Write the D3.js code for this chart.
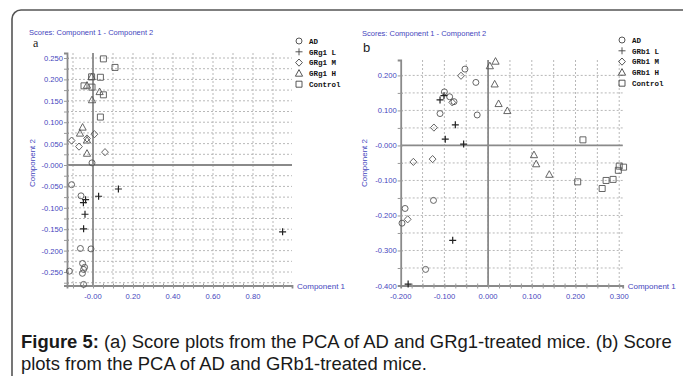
<!DOCTYPE html>
<html>
<head>
<meta charset="utf-8">
<script src="https://cdn.jsdelivr.net/npm/d3@7"></script>
<style>
  body { margin: 0; background: #fff; }
  svg { display: block; }
  .tick-lbl { font-family: "Liberation Sans", Arial, sans-serif; font-size: 7.6px; fill: #4545bd; }
  .leg { font-family: "Liberation Mono", monospace; font-size: 7.5px; font-weight: bold; fill: #111; }
</style>
</head>
<body>
<svg id="fig" width="683" height="376"></svg>
<script>
// panel a: GRg1 (x = component 1, y = component 2)
var adA = [[-0.107, -0.046], [-0.06, -0.072], [-0.063, -0.195], [-0.01, -0.196], [-0.052, -0.23], [-0.042, -0.239],
  [-0.047, -0.244], [-0.053, -0.253], [-0.118, -0.248], [-0.047, -0.279], [-0.005, 0.005]];
var lowA = [[-0.037, -0.081], [-0.048, -0.088], [0.028, -0.073], [0.127, -0.056], [-0.04, -0.115], [-0.047, -0.149], [0.948, -0.156]];
var midA = [[0.007, 0.072], [-0.107, 0.057], [-0.03, 0.062], [-0.07, 0.043], [0.06, 0.03]];
var highA = [[-0.005, 0.152], [0.033, 0.171], [-0.052, 0.088], [-0.065, 0.074], [-0.03, 0.058], [-0.03, 0.027], [-0.007, 0.206], [-0.03, 0.186]];
var ctrlA = [[0.052, 0.248], [0.11, 0.228], [-0.007, 0.206], [0.037, 0.205], [-0.045, 0.185], [-0.005, 0.182], [0.052, 0.164], [0.037, 0.112]];

// panel b: GRb1
var adB = [[-0.11, 0.091], [-0.1, 0.153], [-0.088, 0.139], [-0.078, 0.125], [-0.053, 0.218], [-0.028, 0.18], [-0.025, 0.087],
  [-0.125, -0.157], [-0.19, -0.18], [-0.197, -0.222], [-0.143, -0.354]];
var lowB = [[-0.11, 0.13], [-0.101, 0.142], [-0.075, 0.059], [-0.098, 0.018], [-0.056, 0.004], [-0.081, -0.271], [-0.183, -0.396]];
var midB = [[-0.062, 0.199], [-0.124, 0.051], [-0.082, 0.123], [-0.171, -0.047], [-0.127, -0.039], [-0.184, -0.211]];
var highB = [[0.004, 0.227], [0.017, 0.24], [0.015, 0.175], [0.024, 0.119], [0.044, 0.099], [0.105, -0.027], [0.11, -0.053], [0.14, -0.083]];
var ctrlB = [[0.217, 0.016], [0.205, -0.104], [0.261, -0.123], [0.27, -0.1], [0.286, -0.097], [0.298, -0.071], [0.3, -0.059], [0.31, -0.062]];

var xTicksA = [0, 0.2, 0.4, 0.6, 0.8];
var xLabelsA = ["-0.00", "0.20", "0.40", "0.60", "0.80"];
var yTicksA = [0.25, 0.2, 0.15, 0.1, 0.05, 0, -0.05, -0.1, -0.15, -0.2, -0.25];
var yLabelsA = ["0.250", "0.200", "0.150", "0.100", "0.050", "-0.000", "-0.050", "-0.100", "-0.150", "-0.200", "-0.250"];
var xTicksB = [-0.2, -0.1, 0, 0.1, 0.2, 0.3];
var xLabelsB = ["-0.200", "-0.100", "0.000", "0.100", "0.200", "0.300"];
var yTicksB = [0.2, 0.1, 0, -0.1, -0.2, -0.3, -0.4];
var yLabelsB = ["0.200", "0.100", "-0.000", "-0.100", "-0.200", "-0.300", "-0.400"];

var svg = d3.select("#fig");

// outer frame
svg.append("rect").attr("x", 12).attr("y", 10).attr("width", 700).attr("height", 420).attr("rx", 9)
  .attr("fill", "none").attr("stroke", "#555").attr("stroke-width", 1.6);

// marker paths
function shape(kind) {
  switch (kind) {
    case "circle": return "M3,0 A3,3 0 1,1 -3,0 A3,3 0 1,1 3,0";
    case "plus": return "M-3.5,0 L3.5,0 M0,-3.5 L0,3.5";
    case "diamond": return "M0,-3.6 L3.4,0 L0,3.6 L-3.4,0 Z";
    case "tri": return "M0,-3.8 L3.6,2.8 L-3.6,2.8 Z";
    default: return "M-3,-3 L3,-3 L3,3 L-3,3 Z";
  }
}

function panel(cfg) {
  var x = d3.scaleLinear().domain(cfg.xDom).range(cfg.xRange);
  var y = d3.scaleLinear().domain(cfg.yDom).range(cfg.yRange);
  var g = svg.append("g");

  // dotted grid
  g.selectAll(".gx").data(cfg.gridX).enter().append("line")
    .attr("x1", d => x(d)).attr("x2", d => x(d)).attr("y1", cfg.yRange[1]).attr("y2", cfg.yRange[0])
    .attr("stroke", "#b0b0b0").attr("stroke-dasharray", "2,2").attr("stroke-width", 0.9);
  g.selectAll(".gy").data(cfg.gridY).enter().append("line")
    .attr("y1", d => y(d)).attr("y2", d => y(d)).attr("x1", cfg.xRange[0]).attr("x2", cfg.xRange[1])
    .attr("stroke", "#b0b0b0").attr("stroke-dasharray", "2,2").attr("stroke-width", 0.9);

  // zero lines
  g.append("line").attr("x1", x(0)).attr("x2", x(0)).attr("y1", cfg.yRange[1]).attr("y2", cfg.yRange[0])
    .attr("stroke", "#8a8a8a").attr("stroke-width", 1.8);
  g.append("line").attr("y1", y(0)).attr("y2", y(0)).attr("x1", cfg.xRange[0]).attr("x2", cfg.xRange[1])
    .attr("stroke", "#8a8a8a").attr("stroke-width", 1.8);

  // axes
  var ax = d3.axisBottom(x).tickValues(cfg.gridX.concat(cfg.xMinor)).tickSize(3).tickFormat("");
  g.append("g").attr("transform", `translate(0,${cfg.yRange[0]})`).call(ax)
    .call(s => { s.select(".domain").attr("stroke", "#8a8a8a").attr("stroke-width", 1.8); s.selectAll(".tick line").attr("stroke", "#999").attr("y1", -2); });
  var ay = d3.axisLeft(y).tickValues(cfg.gridY).tickSize(3).tickFormat("");
  g.append("g").attr("transform", `translate(${cfg.xRange[0]},0)`).call(ay)
    .call(s => { s.select(".domain").attr("stroke", "#8a8a8a").attr("stroke-width", 1.8); s.selectAll(".tick line").attr("stroke", "#999").attr("x1", 2); });

  // tick labels
  g.selectAll(".xl").data(cfg.xTicks).enter().append("text").attr("class", "tick-lbl")
    .attr("x", d => x(d)).attr("y", cfg.yRange[0] + 13).attr("text-anchor", "middle")
    .text((d, i) => cfg.xLabels[i]);
  g.selectAll(".yl").data(cfg.yTicks).enter().append("text").attr("class", "tick-lbl")
    .attr("x", cfg.xRange[0] - 4).attr("y", d => y(d) + 3).attr("text-anchor", "end")
    .text((d, i) => cfg.yLabels[i]);

  // titles
  g.append("text").attr("class", "tick-lbl").attr("x", cfg.titleX).attr("y", cfg.titleY)
    .style("font-size", "7.5px").text("Scores: Component 1 - Component 2");
  g.append("text").attr("class", "tick-lbl").attr("x", cfg.xRange[1] + 5).attr("y", cfg.yRange[0] + 3)
    .style("font-size", "8px").text("Component 1");
  g.append("text").attr("class", "tick-lbl").attr("transform", `translate(${cfg.c2x},163) rotate(-90)`)
    .attr("text-anchor", "middle").style("font-size", "8px").text("Component 2");
  g.append("text").attr("x", cfg.letterX).attr("y", cfg.letterY)
    .style("font-family", cfg.letterFont).style("font-size", cfg.letterSize).attr("fill", "#222").text(cfg.letter);

  // points
  cfg.series.forEach(s => {
    g.selectAll(null).data(s.data).enter().append("path")
      .attr("transform", d => `translate(${x(d[0])},${y(d[1])})`)
      .attr("d", shape(s.kind)).attr("fill", "none")
      .attr("stroke", s.kind == "plus" ? "#222" : "#555").attr("stroke-width", s.kind == "plus" ? 1.2 : 0.9);
  });

  // legend
  var lg = g.append("g").attr("transform", `translate(${cfg.legX},${cfg.legY})`);
  cfg.series.forEach((s, i) => {
    lg.append("path").attr("transform", `translate(0,${i * 10.8})`).attr("d", shape(s.kind))
      .attr("fill", "none").attr("stroke", "#444").attr("stroke-width", 0.9);
    lg.append("text").attr("class", "leg").attr("x", 10).attr("y", i * 10.8 + 2.8).text(s.name);
  });
}

panel({
  xDom: [-0.13, 0.995], xRange: [67, 292],
  yDom: [-0.2815, 0.2617], yRange: [285.5, 53],
  gridX: [-0.1, 0, 0.1, 0.2, 0.3, 0.4, 0.5, 0.6, 0.7, 0.8, 0.9],
  xMinor: [-0.05, 0.05, 0.15, 0.25, 0.35, 0.45, 0.55, 0.65, 0.75, 0.85, 0.95],
  gridY: d3.range(-0.275, 0.26, 0.025),
  xTicks: xTicksA, xLabels: xLabelsA, yTicks: yTicksA, yLabels: yLabelsA,
  titleX: 29, titleY: 35, c2x: 35,
  letter: "a", letterX: 33, letterY: 47, letterFont: "Liberation Serif", letterSize: "12px",
  legX: 299, legY: 41,
  series: [
    { name: "AD", kind: "circle", data: adA },
    { name: "GRg1 L", kind: "plus", data: lowA },
    { name: "GRg1 M", kind: "diamond", data: midA },
    { name: "GRg1 H", kind: "tri", data: highA },
    { name: "Control", kind: "square", data: ctrlA }
  ]
});

panel({
  xDom: [-0.2, 0.308], xRange: [400.7, 622.7],
  yDom: [-0.4, 0.244], yRange: [285.5, 60],
  gridX: [-0.15, -0.1, -0.05, 0, 0.05, 0.1, 0.15, 0.2, 0.25, 0.3],
  xMinor: [-0.175, -0.125, -0.075, -0.025, 0.025, 0.075, 0.125, 0.175, 0.225, 0.275],
  gridY: [-0.35, -0.3, -0.25, -0.2, -0.15, -0.1, -0.05, 0, 0.05, 0.1, 0.15, 0.2],
  xTicks: xTicksB, xLabels: xLabelsB, yTicks: yTicksB, yLabels: yLabelsB,
  titleX: 362, titleY: 36, c2x: 367,
  letter: "b", letterX: 363, letterY: 52, letterFont: "Liberation Sans", letterSize: "13px",
  legX: 622, legY: 40,
  series: [
    { name: "AD", kind: "circle", data: adB },
    { name: "GRb1 L", kind: "plus", data: lowB },
    { name: "GRb1 M", kind: "diamond", data: midB },
    { name: "GRb1 H", kind: "tri", data: highB },
    { name: "Control", kind: "square", data: ctrlB }
  ]
});

// caption
var cap = svg.append("g").style("font-family", "Liberation Sans, Arial, sans-serif").attr("fill", "#1a1a1a");
var l1 = cap.append("text").attr("x", 21).attr("y", 348);
l1.append("tspan").style("font-weight", "bold").text("Figure 5:");
l1.append("tspan").text(" (a) Score plots from the PCA of AD and GRg1-treated mice. (b) Score");
var l2 = cap.append("text").attr("x", 21).attr("y", 370).text("plots from the PCA of AD and GRb1-treated mice.");
cap.style("font-size", "15px");
var w = l1.node().getComputedTextLength();
cap.style("font-size", (15 * 651 / w).toFixed(2) + "px");
</script>
</body>
</html>
